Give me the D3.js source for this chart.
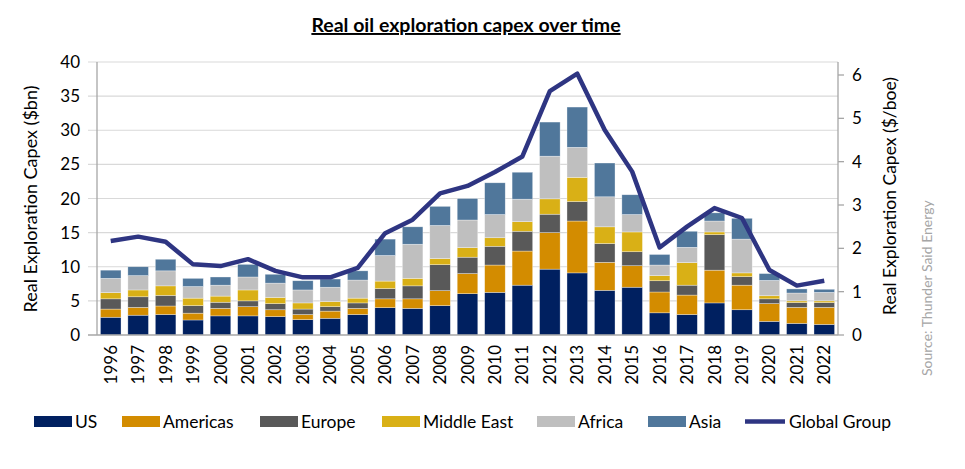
<!DOCTYPE html>
<html>
<head>
<meta charset="utf-8">
<script src="https://cdn.jsdelivr.net/npm/d3@7"></script>
<style>
  body { margin: 0; background: #fff; }
  svg { display: block; font-family: Lato, "Open Sans", sans-serif; }
</style>
</head>
<body>
<svg id="chart" width="965" height="469"></svg>
<script>
const years = ['1996','1997','1998','1999','2000','2001','2002','2003','2004','2005','2006','2007','2008','2009',
  '2010','2011','2012','2013','2014','2015','2016','2017','2018','2019','2020','2021','2022'];

// $bn
const us       = [2.6, 2.9, 3.0, 2.2, 2.8, 2.8, 2.7, 2.25, 2.45, 3.0, 4.0, 3.9, 4.3, 6.05, 6.25, 7.3, 9.65, 9.1, 6.55, 7.0, 3.25, 3.0, 4.7, 3.7, 2.0, 1.7, 1.55];
const americas = [1.2, 1.15, 1.25, 1.0, 1.1, 1.35, 1.0, 0.75, 1.05, 0.9, 1.3, 1.4, 2.2, 2.95, 4.0, 5.0, 5.35, 7.6, 4.1, 3.15, 3.05, 2.85, 4.8, 3.6, 2.6, 2.35, 2.5];
const europe   = [1.5, 1.55, 1.55, 1.1, 0.9, 0.85, 0.9, 0.8, 0.65, 0.8, 1.5, 1.9, 3.8, 2.4, 2.75, 2.9, 2.7, 2.85, 2.75, 2.05, 1.65, 1.45, 5.2, 1.25, 0.7, 0.7, 0.7];
const midEast  = [0.9, 1.0, 1.4, 1.1, 0.9, 1.6, 0.9, 0.9, 0.75, 0.7, 1.1, 1.1, 0.9, 1.4, 1.25, 1.4, 2.25, 3.55, 2.45, 2.9, 0.75, 3.3, 0.4, 0.55, 0.45, 0.25, 0.25];
const africa   = [2.1, 2.1, 2.2, 1.7, 1.6, 1.9, 2.1, 1.9, 2.1, 2.65, 3.75, 5.0, 4.85, 4.05, 3.4, 3.3, 6.25, 4.4, 4.4, 2.55, 1.55, 2.25, 1.6, 4.95, 2.25, 1.15, 1.25];
const asia     = [1.2, 1.3, 1.7, 1.2, 1.2, 1.85, 1.3, 1.35, 1.2, 1.35, 2.4, 2.55, 2.8, 3.15, 4.65, 3.95, 5.0, 5.9, 4.95, 2.9, 1.55, 2.35, 1.2, 3.05, 1.0, 0.6, 0.45];

// $/boe, right axis
const globalGroup = [2.17, 2.27, 2.15, 1.63, 1.59, 1.75, 1.48, 1.33, 1.33, 1.55, 2.35, 2.66, 3.27, 3.44, 3.76, 4.12, 5.63, 6.03,
  4.73, 3.77, 2.02, 2.5, 2.93, 2.7, 1.5, 1.14, 1.25];

const seriesNames = ['US', 'Americas', 'Europe', 'Middle East', 'Africa', 'Asia'];
const seriesData = [us, americas, europe, midEast, africa, asia];
const colors = ['#002060', '#d38c00', '#595959', '#d9b016', '#bfbfbf', '#50779b'];
const lineColor = '#2e3582';

const leftTicks = [0, 5, 10, 15, 20, 25, 30, 35, 40];
const rightTicks = [0, 1, 2, 3, 4, 5, 6];

const svg = d3.select('#chart');
const plotL = 97, plotR = 838, plotT = 62, plotB = 335;

const x = d3.scaleBand(years, [plotL, plotR]).paddingInner(0.25).paddingOuter(0.125);
const y = d3.scaleLinear([0, 40], [plotB, plotT]);
const y2 = d3.scaleLinear([0, 6.3], [plotB, plotT]);

const rows = years.map((yr, i) => {
  const r = { year: yr };
  seriesNames.forEach((s, j) => { r[s] = seriesData[j][i]; });
  return r;
});
const stacked = d3.stack().keys(seriesNames)(rows);

// gridlines
svg.append('g').selectAll('line').data(leftTicks.filter((d) => d > 0)).join('line')
  .attr('x1', plotL - 9).attr('x2', plotR).attr('y1', (d) => y(d)).attr('y2', (d) => y(d))
  .attr('stroke', '#d9d9d9').attr('stroke-width', 1.2);

// bars
svg.append('g').selectAll('g').data(stacked).join('g')
  .attr('fill', (d, i) => colors[i])
  .selectAll('rect').data((d) => d).join('rect')
  .attr('x', (d) => x(d.data.year))
  .attr('y', (d) => y(d[1]))
  .attr('width', x.bandwidth())
  .attr('height', (d) => y(d[0]) - y(d[1]))
  .attr('stroke', 'rgba(255,255,255,0.55)').attr('stroke-width', 0.6);

// axes lines
const axisCol = '#a6a6a6';
svg.append('line').attr('x1', plotL).attr('x2', plotL).attr('y1', plotT).attr('y2', plotB).attr('stroke', axisCol).attr('stroke-width', 1.3);
svg.append('line').attr('x1', plotR).attr('x2', plotR).attr('y1', plotT).attr('y2', plotB).attr('stroke', axisCol).attr('stroke-width', 1.3);
svg.append('line').attr('x1', plotL - 9).attr('x2', plotR).attr('y1', plotB).attr('y2', plotB).attr('stroke', axisCol).attr('stroke-width', 1.3);

// left axis labels
svg.append('g').selectAll('text').data(leftTicks).join('text')
  .attr('x', 80).attr('y', (d) => y(d)).attr('dy', '0.36em')
  .attr('text-anchor', 'end').attr('font-size', 17).attr('fill', '#000')
  .text((d) => d);

// right axis ticks & labels
svg.append('g').selectAll('line').data(rightTicks).join('line')
  .attr('x1', plotR).attr('x2', plotR + 6).attr('y1', (d) => y2(d)).attr('y2', (d) => y2(d))
  .attr('stroke', axisCol).attr('stroke-width', 1.3);
svg.append('g').selectAll('text').data(rightTicks).join('text')
  .attr('x', 852).attr('y', (d) => y2(d)).attr('dy', '0.36em')
  .attr('text-anchor', 'start').attr('font-size', 17).attr('fill', '#000')
  .text((d) => d);

// x labels
svg.append('g').selectAll('text').data(years).join('text')
  .attr('transform', (d) => `translate(${x(d) + x.bandwidth() / 2 + 6},345) rotate(-90)`)
  .attr('text-anchor', 'end').attr('font-size', 17).attr('fill', '#000')
  .text((d) => d);

// global line
svg.append('path').datum(globalGroup)
  .attr('d', d3.line().x((d, i) => x(years[i]) + x.bandwidth() / 2).y((d) => y2(d)))
  .attr('fill', 'none').attr('stroke', lineColor).attr('stroke-width', 4.5)
  .attr('stroke-linejoin', 'round');

// titles
svg.append('text').attr('x', 466).attr('y', 32).attr('text-anchor', 'middle')
  .attr('font-size', 19.5).attr('font-weight', 'bold').attr('text-decoration', 'underline')
  .text('Real oil exploration capex over time');
svg.append('text').attr('transform', 'translate(37,199) rotate(-90)').attr('text-anchor', 'middle')
  .attr('font-size', 18).text('Real Exploration Capex ($bn)');
svg.append('text').attr('transform', 'translate(896,196) rotate(-90)').attr('text-anchor', 'middle')
  .attr('font-size', 17.5).text('Real Exploration Capex ($/boe)');
svg.append('text').attr('transform', 'translate(932,376) rotate(-90)').attr('text-anchor', 'start')
  .attr('font-size', 14).attr('fill', '#a6a6a6').text('Source: Thunder Said Energy');

// legend
const legendItems = [
  { name: 'US', x: 34 }, { name: 'Americas', x: 122 }, { name: 'Europe', x: 260 },
  { name: 'Middle East', x: 382 }, { name: 'Africa', x: 537 }, { name: 'Asia', x: 648 },
];
const lg = svg.append('g');
legendItems.forEach((it, i) => {
  lg.append('rect').attr('x', it.x).attr('y', 416).attr('width', 38).attr('height', 11).attr('fill', colors[i]);
  lg.append('text').attr('x', it.x + 41).attr('y', 421.5).attr('dy', '0.36em').attr('font-size', 17.5).text(it.name);
});
lg.append('line').attr('x1', 745).attr('x2', 785).attr('y1', 421.5).attr('y2', 421.5).attr('stroke', lineColor).attr('stroke-width', 4.5);
lg.append('text').attr('x', 789).attr('y', 421.5).attr('dy', '0.36em').attr('font-size', 17.5).text('Global Group');
</script>
</body>
</html>
